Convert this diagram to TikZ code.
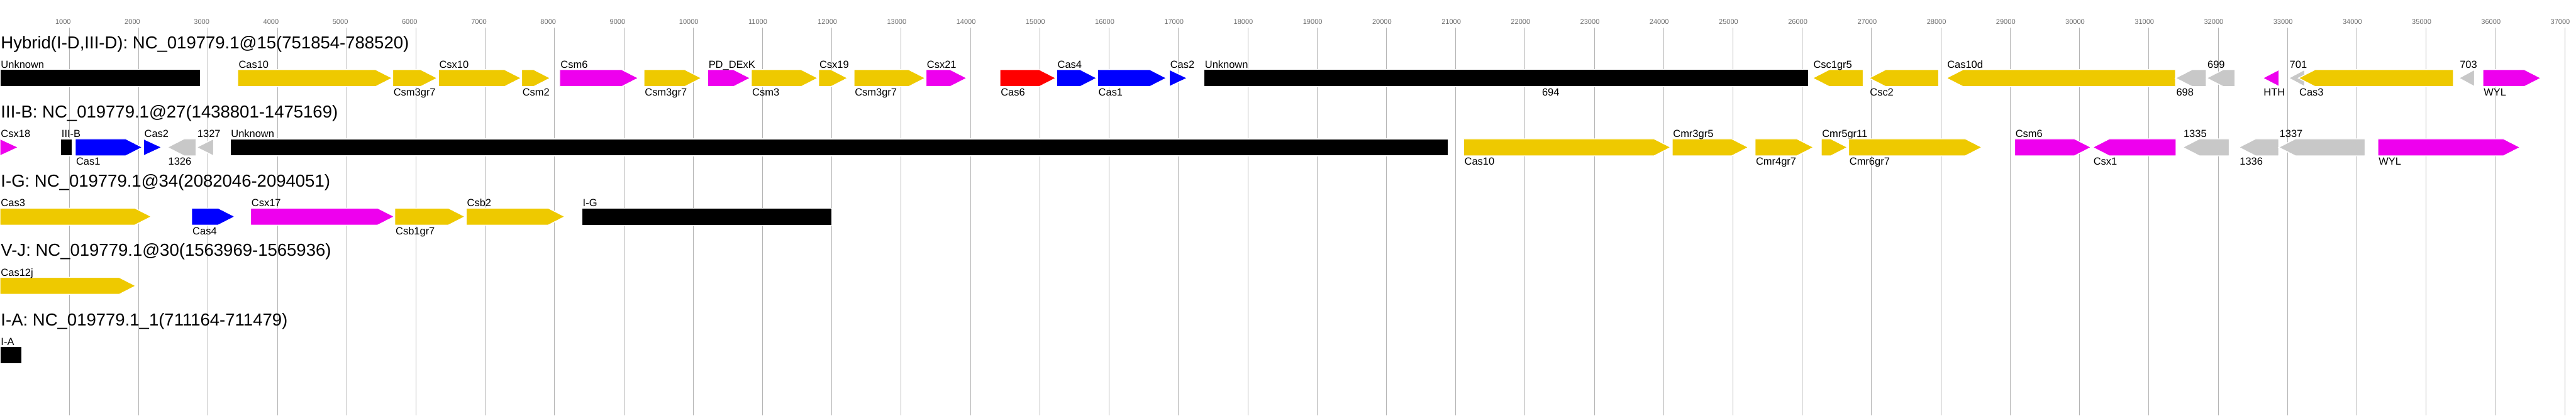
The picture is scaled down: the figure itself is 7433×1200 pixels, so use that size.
\documentclass[tikz,border=0pt]{standalone}
\usepackage{fontspec}
\setmainfont{Liberation Sans}

\definecolor{casgold}{HTML}{EEC900}
\definecolor{casmag}{HTML}{EE00EE}
\definecolor{casblue}{HTML}{0000FF}
\definecolor{casred}{HTML}{FF0000}
\definecolor{casgray}{HTML}{C8C8C8}
\definecolor{gridgray}{HTML}{B4B4B4}
\definecolor{tickgray}{HTML}{6E6E6E}

% gene arrows: name, start, end, row top, colour, label, label offset
\newcommand{\geneR}[7]{%
  \pgfmathsetmacro{\hd}{((#3)-(#2)<56) ? ((#3)-(#2)) : 48}
  \filldraw[gene, fill=#5] (#2,#4) -- ({#3-\hd},#4) -- (#3,#4+24.5) -- ({#3-\hd},#4+49) -- (#2,#4+49) -- cycle;
  \node[genelab] (#1) at ({#2+2},{#4+#7}) {#6};}
\newcommand{\geneL}[7]{%
  \pgfmathsetmacro{\hd}{((#3)-(#2)<56) ? ((#3)-(#2)) : 48}
  \filldraw[gene, fill=#5] (#3,#4) -- ({#2+\hd},#4) -- (#2,#4+24.5) -- ({#2+\hd},#4+49) -- (#3,#4+49) -- cycle;
  \node[genelab] (#1) at ({#2+2},{#4+#7}) {#6};}
\newcommand{\geneB}[7]{%
  \filldraw[gene, fill=#5] (#2,#4) rectangle (#3,#4+49);
  \node[genelab] (#1) at ({#2+2},{#4+#7}) {#6};}

\begin{document}
\begin{tikzpicture}[x=0.01cm, y=-0.01cm,
  gene/.style={draw=white, line width=0.025cm},
  genelab/.style={anchor=base west, inner sep=0pt, font=\fontsize{8.5pt}{10pt}\selectfont},
  rowtitle/.style={anchor=base west, inner sep=0pt, font=\fontsize{14.2pt}{17pt}\selectfont},
  ticklab/.style={anchor=base west, inner sep=0pt, text=tickgray, font=\fontsize{5.7pt}{7pt}\selectfont},
  gridline/.style={draw=gridgray, line width=0.01cm}]
  \useasboundingbox[fill=white] (0,0) rectangle (7433,1200);

  % scale: 1000 bp every 200
  \foreach \k in {1,...,37} {
    \draw[gridline] (\k*200,80) -- (\k*200,1200);
    \node[ticklab] (tick\k) at (\k*200-41,70) {\k000};
  }

  % Hybrid(I-D,III-D)
  \node[rowtitle] (title1) at (2,140) {Hybrid(I-D,III-D): NC\_019779.1@15(751854-788520)};
  \geneB{unk1}{0}{578}{201}{black}{Unknown}{-4}
  \geneR{cas10a}{686}{1132}{201}{casgold}{Cas10}{-4}
  \geneR{csm3a}{1133}{1262}{201}{casgold}{Csm3gr7}{76}
  \geneR{csx10}{1265}{1504}{201}{casgold}{Csx10}{-4}
  \geneR{csm2}{1505}{1588}{201}{casgold}{Csm2}{76}
  \geneR{csm6a}{1615}{1842}{201}{casmag}{Csm6}{-4}
  \geneR{csm3b}{1858}{2024}{201}{casgold}{Csm3gr7}{76}
  \geneR{pddexk}{2042}{2165}{201}{casmag}{PD\_DExK}{-4}
  \geneR{csm3}{2168}{2360}{201}{casgold}{Csm3}{76}
  \geneR{csx19}{2362}{2446}{201}{casgold}{Csx19}{-4}
  \geneR{csm3c}{2464}{2670}{201}{casgold}{Csm3gr7}{76}
  \geneR{csx21}{2672}{2790}{201}{casmag}{Csx21}{-4}
  \geneR{cas6}{2885}{3047}{201}{casred}{Cas6}{76}
  \geneR{cas4a}{3049}{3165}{201}{casblue}{Cas4}{-4}
  \geneR{cas1a}{3167}{3366}{201}{casblue}{Cas1}{76}
  \geneR{cas2a}{3374}{3426}{201}{casblue}{Cas2}{-4}
  \geneB{unk2}{3474}{5218}{201}{black}{Unknown}{-4}
  \node[genelab] (g694) at (4449,277) {694};
  \geneL{csc1}{5230}{5376}{201}{casgold}{Csc1gr5}{-4}
  \geneL{csc2}{5393}{5594}{201}{casgold}{Csc2}{76}
  \geneL{cas10d}{5616}{6277}{201}{casgold}{Cas10d}{-4}
  \geneL{g698}{6277}{6366}{201}{casgray}{698}{76}
  \geneL{g699}{6367}{6449}{201}{casgray}{699}{-4}
  \geneL{hth}{6529}{6576}{201}{casmag}{HTH}{76}
  \geneL{g701}{6604}{6650}{201}{casgray}{701}{-4}
  \geneL{cas3a}{6632}{7079}{201}{casgold}{Cas3}{76}
  \geneL{g703}{7095}{7140}{201}{casgray}{703}{-4}
  \geneR{wyla}{7164}{7332}{201}{casmag}{WYL}{76}

  % III-B
  \node[rowtitle] (title2) at (2,340) {III-B: NC\_019779.1@27(1438801-1475169)};
  \geneR{csx18}{0}{53}{401}{casmag}{Csx18}{-4}
  \geneB{iiib}{175}{209}{401}{black}{III-B}{-4}
  \geneR{cas1b}{217}{411}{401}{casblue}{Cas1}{76}
  \geneR{cas2b}{414}{467}{401}{casblue}{Cas2}{-4}
  \geneL{g1326}{483}{566}{401}{casgray}{1326}{76}
  \geneL{g1327}{567}{616}{401}{casgray}{1327}{-4}
  \geneB{unk3}{664}{4179}{401}{black}{Unknown}{-4}
  \geneR{cas10b}{4223}{4821}{401}{casgold}{Cas10}{76}
  \geneR{cmr3}{4825}{5045}{401}{casgold}{Cmr3gr5}{-4}
  \geneR{cmr4}{5064}{5233}{401}{casgold}{Cmr4gr7}{76}
  \geneR{cmr5}{5255}{5331}{401}{casgold}{Cmr5gr11}{-4}
  \geneR{cmr6}{5334}{5719}{401}{casgold}{Cmr6gr7}{76}
  \geneR{csm6b}{5813}{6034}{401}{casmag}{Csm6}{-4}
  \geneL{csx1}{6038}{6279}{401}{casmag}{Csx1}{76}
  \geneL{g1335}{6298}{6432}{401}{casgray}{1335}{-4}
  \geneL{g1336}{6460}{6575}{401}{casgray}{1336}{76}
  \geneL{g1337}{6575}{6824}{401}{casgray}{1337}{-4}
  \geneR{wylb}{6861}{7272}{401}{casmag}{WYL}{76}

  % I-G
  \node[rowtitle] (title3) at (2,540) {I-G: NC\_019779.1@34(2082046-2094051)};
  \geneR{cas3b}{0}{437}{601}{casgold}{Cas3}{-4}
  \geneR{cas4b}{553}{678}{601}{casblue}{Cas4}{76}
  \geneR{csx17}{723}{1138}{601}{casmag}{Csx17}{-4}
  \geneR{csb1}{1139}{1342}{601}{casgold}{Csb1gr7}{76}
  \geneR{csb2}{1345}{1630}{601}{casgold}{Csb2}{-4}
  \geneB{ig}{1679}{2401}{601}{black}{I-G}{-4}

  % V-J
  \node[rowtitle] (title4) at (2,740) {V-J: NC\_019779.1@30(1563969-1565936)};
  \geneR{cas12j}{0}{392}{801}{casgold}{Cas12j}{-4}

  % I-A
  \node[rowtitle] (title5) at (2,940) {I-A: NC\_019779.1\_1(711164-711479)};
  \geneB{ia}{0}{63}{1001}{black}{I-A}{-4}
\end{tikzpicture}
\end{document}
